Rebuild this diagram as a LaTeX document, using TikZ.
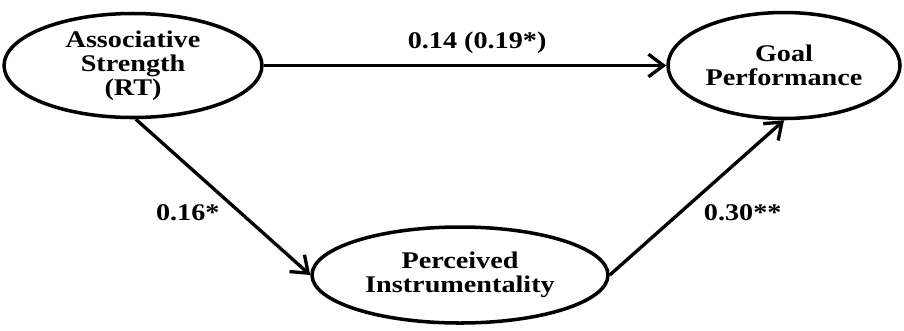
\documentclass[tikz,border=0pt]{standalone}
\usepackage{fontspec}
\setmainfont{Liberation Serif}[FakeStretch=1.18]
\usepackage{tikz}
\usetikzlibrary{arrows.meta, positioning, shapes.geometric}

\begin{document}
\begin{tikzpicture}[
    font=\fontsize{13.6}{13.6}\selectfont\bfseries,
    latent/.style={ellipse, draw=black, line width=2pt, fill=white,
                   align=center, inner sep=0pt},
    arrow/.style={-{Straight Barb[length=3mm, width=4.5mm]}, line width=1.9pt, draw=black},
    pathlabel/.style={inner sep=1pt, align=center}
  ]
    \useasboundingbox (0,0) rectangle (18.08,-6.6);

    \node[latent, minimum width=5.16cm, minimum height=2.08cm] (assoc) at (2.66,-1.31)
      {Associative\\Strength\\(RT)};
    \node[latent, minimum width=4.64cm, minimum height=2.12cm] (goal)  at (15.68,-1.31)
      {Goal\\Performance};
    \node[latent, minimum width=5.92cm, minimum height=1.92cm] (perc)  at (9.2,-5.5)
      {Perceived\\Instrumentality};

    \draw[arrow] (assoc.east) -- (goal.west)
      node[pos=0.53, above=5pt, pathlabel] {0.14 (0.19*)};
    \draw[arrow] (assoc.-87) -- (perc.west)
      node[pos=0.6, left=10pt, pathlabel] {0.16*};
    \draw[arrow] (perc.east) -- (goal.south)
      node[pos=0.4, right=12pt, pathlabel] {0.30**};
\end{tikzpicture}
\end{document}
